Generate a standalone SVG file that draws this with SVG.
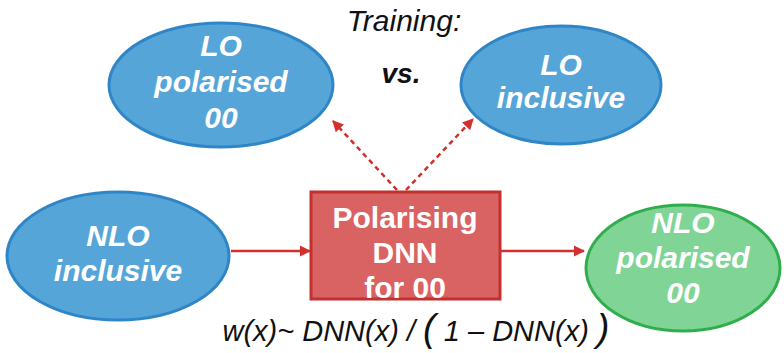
<svg xmlns="http://www.w3.org/2000/svg" width="784" height="353" viewBox="0 0 784 353">
<defs>
<style>
.blue{fill:#55a5d8;stroke:#2f86c6;stroke-width:3}
.green{fill:#80d496;stroke:#2fae4c;stroke-width:3}
.red{fill:#d96262;stroke:#c2302f;stroke-width:3}
.lbl{font-family:"Liberation Sans",Arial,sans-serif;font-weight:bold;font-style:italic;font-size:30px;fill:#fff;text-anchor:middle}
.box{font-family:"Liberation Sans",Arial,sans-serif;font-weight:bold;font-size:30px;fill:#fff;text-anchor:middle}
.plain{font-family:"Liberation Sans",Arial,sans-serif;font-style:italic;fill:#111;text-anchor:middle}
.solid{stroke:#d2302c;stroke-width:2.5;fill:none}
.dash{stroke:#d2302c;stroke-width:2.5;fill:none;stroke-dasharray:5 4}
</style>
<marker id="ah" viewBox="0 0 10 10" refX="9" refY="5" markerWidth="4.5" markerHeight="4.5" orient="auto" markerUnits="strokeWidth">
<path d="M0,0 L10,5 L0,10 z" fill="#d2302c"/>
</marker>
</defs>
<text class="plain" x="404" y="31" font-size="30">Training:</text>
<text class="plain" x="401" y="83" font-size="28" font-weight="bold">vs.</text>
<g id="lo-pol">
<ellipse class="blue" cx="221" cy="85" rx="112" ry="62"/>
<text class="lbl" x="221" y="56">LO</text>
<text class="lbl" x="221" y="92">polarised</text>
<text class="lbl" x="221" y="128">00</text>
</g>
<g id="lo-inc">
<ellipse class="blue" cx="561" cy="85" rx="100" ry="59"/>
<text class="lbl" x="561" y="75">LO</text>
<text class="lbl" x="561" y="108">inclusive</text>
</g>
<g id="nlo-inc">
<ellipse class="blue" cx="118" cy="256" rx="111" ry="64"/>
<text class="lbl" x="118" y="246">NLO</text>
<text class="lbl" x="118" y="281">inclusive</text>
</g>
<g id="dnn">
<rect class="red" x="311" y="192" width="189" height="107"/>
<text class="box" x="405" y="228">Polarising</text>
<text class="box" x="405" y="263">DNN</text>
<text class="box" x="405" y="298">for 00</text>
</g>
<g id="nlo-pol">
<ellipse class="green" cx="683" cy="268" rx="97" ry="63"/>
<text class="lbl" x="683" y="233">NLO</text>
<text class="lbl" x="683" y="268">polarised</text>
<text class="lbl" x="683" y="303">00</text>
</g>
<g id="connectors">
<line class="solid" x1="231" y1="251" x2="310" y2="251" marker-end="url(#ah)"/>
<line class="solid" x1="501" y1="251" x2="584" y2="251" marker-end="url(#ah)"/>
<line class="dash" x1="397" y1="190" x2="333" y2="121" marker-end="url(#ah)"/>
<line class="dash" x1="406" y1="190" x2="473" y2="119" marker-end="url(#ah)"/>
</g>
<text class="plain" x="416" y="341" font-size="29">w(x)~ DNN(x) / <tspan font-size="38">(</tspan> 1 – DNN(x) <tspan font-size="38">)</tspan></text>
</svg>
